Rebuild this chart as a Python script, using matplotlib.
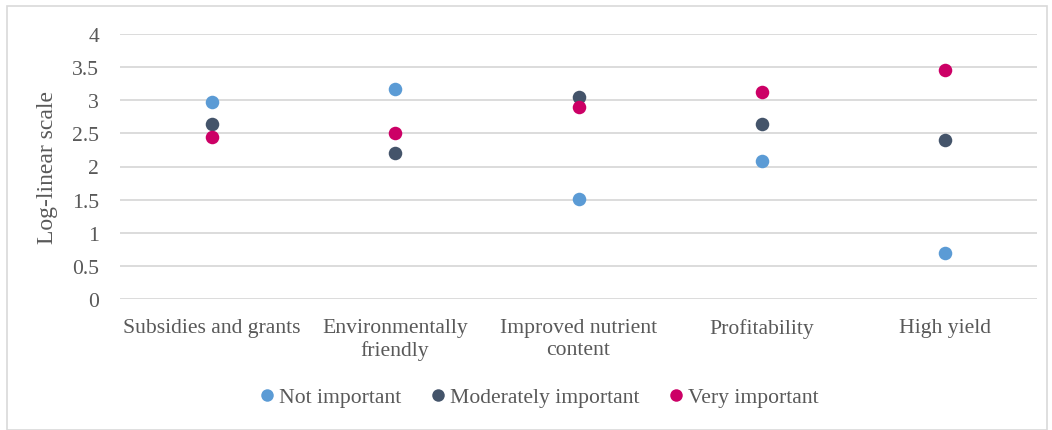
import matplotlib.pyplot as plt
from matplotlib.patches import Rectangle
from matplotlib.lines import Line2D

plt.rcParams['font.family'] = ['Liberation Serif', 'DejaVu Serif']

categories = ["Subsidies and grants", "Environmentally\nfriendly",
              "Improved nutrient\ncontent", "Profitability", "High yield"]
not_important = [2.97, 3.17, 1.51, 2.08, 0.69]
moderately_important = [2.64, 2.20, 3.05, 2.64, 2.40]
very_important = [2.45, 2.51, 2.90, 3.12, 3.46]

series = [
    ("Not important", not_important, "#5B9BD5"),
    ("Moderately important", moderately_important, "#44546A"),
    ("Very important", very_important, "#CC0066"),
]

text_col = "#595959"

fig = plt.figure(figsize=(10.52, 4.31), dpi=100)
ax = fig.add_axes([120 / 1052, 1 - 300 / 431, (1037 - 120) / 1052, 265 / 431])

x = list(range(len(categories)))
for name, vals, col in series:
    ax.scatter(x, vals, s=95, color=col, zorder=3, linewidths=0, label=name)

ax.set_xlim(-0.5, len(categories) - 0.5)
ax.set_ylim(0, 4)
ax.set_yticks([0, 0.5, 1, 1.5, 2, 2.5, 3, 3.5, 4])
ax.set_yticklabels(["0", "0.5", "1", "1.5", "2", "2.5", "3", "3.5", "4"])
ax.set_xticks(x)
ax.set_xticklabels(categories, linespacing=1.2)
ax.tick_params(axis='both', length=0, labelsize=15.6, colors=text_col)
ax.tick_params(axis='x', pad=14)
ax.tick_params(axis='y', pad=15)
ax.grid(axis='y', color="#D9D9D9", linewidth=1.3, zorder=0)
ax.set_axisbelow(True)
for s in ax.spines.values():
    s.set_visible(False)
ax.set_ylabel("Log-linear scale", fontsize=17, color=text_col, labelpad=10)

handles = [Line2D([], [], marker='o', linestyle='', markersize=9,
                  markerfacecolor=c, markeredgewidth=0, label=n)
           for n, v, c in series]
fig.legend(handles=handles, loc='center', bbox_to_anchor=(0.512, 1 - 398 / 431),
           ncol=3, frameon=False, fontsize=15.6, handletextpad=0.15,
           columnspacing=1.3, labelcolor=text_col, handlelength=0.8)

fig.patches.append(Rectangle((7 / 1052, 0.0), 1040 / 1052, 1 - 7 / 431,
                             transform=fig.transFigure, fill=False,
                             edgecolor="#D9D9D9", linewidth=1.2))

fig.savefig("out.png", dpi=100)
